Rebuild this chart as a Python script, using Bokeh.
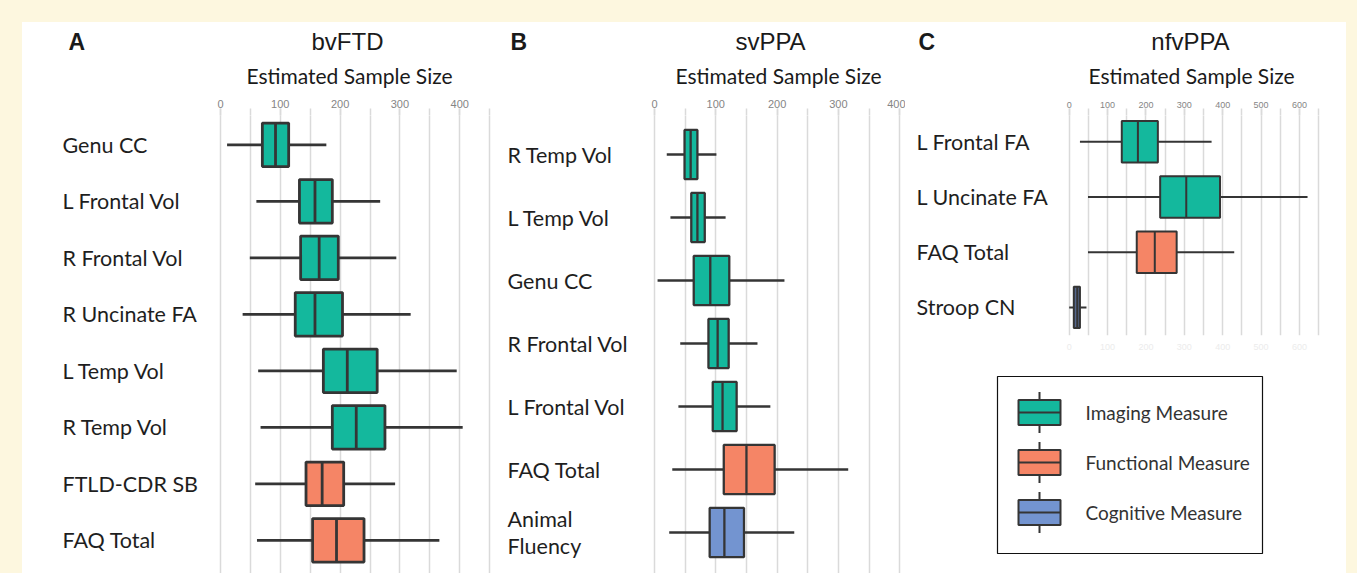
from bokeh.plotting import figure
from bokeh.models import (Range1d, FixedTicker, Spacer, LinearAxis,
                          ColumnDataSource)
from bokeh.transform import dodge
from bokeh.layouts import row, column
from bokeh.core.properties import value
from bokeh.embed import file_html
from bokeh.resources import INLINE

# ---------------- data ----------------
# Panel A: bvFTD
cats_A = ["Genu CC", "L Frontal Vol", "R Frontal Vol", "R Uncinate FA",
          "L Temp Vol", "R Temp Vol", "FTLD-CDR SB", "FAQ Total"]
labels_A = cats_A
types_A = ["Imaging", "Imaging", "Imaging", "Imaging", "Imaging", "Imaging",
           "Functional", "Functional"]
lo_A = [11, 60, 49, 37, 63, 67, 58, 61]
q1_A = [70, 132, 134, 125, 172, 187, 143, 154]
med_A = [92, 158, 165, 158, 212, 227, 170, 194]
q3_A = [114, 187, 197, 204, 262, 275, 206, 240]
hi_A = [177, 267, 294, 318, 395, 405, 292, 366]

# Panel B: svPPA
cats_B = ["R Temp Vol", "L Temp Vol", "Genu CC", "R Frontal Vol",
          "L Frontal Vol", "FAQ Total", "Animal Fluency"]
labels_B = ["R Temp Vol", "L Temp Vol", "Genu CC", "R Frontal Vol",
            "L Frontal Vol", "FAQ Total", "Animal\nFluency"]
types_B = ["Imaging", "Imaging", "Imaging", "Imaging", "Imaging",
           "Functional", "Cognitive"]
lo_B = [20, 26, 5, 42, 39, 29, 24]
q1_B = [49, 60, 64, 88, 95, 113, 90]
med_B = [59, 70, 91, 103, 111, 150, 114]
q3_B = [70, 82, 122, 121, 134, 196, 146]
hi_B = [101, 116, 212, 168, 189, 316, 228]

# Panel C: nfvPPA
cats_C = ["L Frontal FA", "L Uncinate FA", "FAQ Total", "Stroop CN"]
labels_C = cats_C
types_C = ["Imaging", "Imaging", "Functional", "Cognitive"]
lo_C = [28, 49, 49, 0]
q1_C = [137, 237, 176, 12]
med_C = [179, 305, 223, 21]
q3_C = [231, 393, 280, 28]
hi_C = [371, 621, 430, 45]

panel_letters = ["A", "B", "C"]
panel_titles = ["bvFTD", "svPPA", "nfvPPA"]
axis_title = "Estimated Sample Size"

legend_labels = ["Imaging Measure", "Functional Measure", "Cognitive Measure"]
legend_types = ["Imaging", "Functional", "Cognitive"]

ticks_AB = [0, 100, 200, 300, 400]
grid_A = [0, 50, 100, 150, 200, 250, 300, 350, 400, 450]
grid_B = [0, 50, 100, 150, 200, 250, 300, 350, 400]
ticks_C = [0, 100, 200, 300, 400, 500, 600]
grid_C = [0, 50, 100, 150, 200, 250, 300, 350, 400, 450, 500, 550, 600, 650]

# ---------------- style ----------------
CREAM = "#fdf7df"
OUT = "#353535"
GRID = "#dadada"
palette = {"Imaging": "#14b89d", "Functional": "#f58566", "Cognitive": "#7394d0"}
palette_C = {"Imaging": "#14b89d", "Functional": "#f58566", "Cognitive": "#55678c"}
LABEL_FONT = "Lato"
TITLE_FONT = "Liberation Sans"

W, H = 1357, 573
X0, Y0 = 22, 22          # white area starts here (page px)
HEAD_BOTTOM = 88         # header strip ends here
FRAME_TOP = 115          # top of every plot frame (page px)
PA_X = (22, 495)
PB_X = (495, 905)
PC_X = (905, 1346)
PC_BOTTOM = 355          # panel C figure bottom (legend below)
PC_FRAME_BOTTOM = 335


def panel(cats, labels, types, lo, q1, med, q3, hi, pal, xspan, zero_px,
          px_per_unit, fig_bottom, frame_bottom, row0_px, row_step_px,
          tick_out, ticks, grid, tick_font, box_h, lw, label_px):
    width = xspan[1] - xspan[0]
    height = fig_bottom - HEAD_BOTTOM
    pos = list(range(len(cats)))
    src = ColumnDataSource(dict(pos=pos, label=labels, lo=lo, q1=q1, med=med,
                                q3=q3, hi=hi, color=[pal[t] for t in types]))
    x_range = Range1d((xspan[0] - zero_px) / px_per_unit,
                      (xspan[1] - zero_px) / px_per_unit)
    y_range = Range1d((frame_bottom - row0_px) / row_step_px,
                      (FRAME_TOP - row0_px) / row_step_px)
    p = figure(width=width, height=height, x_range=x_range, y_range=y_range,
               x_axis_location="above", y_axis_location=None,
               toolbar_location=None, output_backend="svg",
               min_border_left=0, min_border_right=0,
               min_border_top=FRAME_TOP - HEAD_BOTTOM,
               min_border_bottom=fig_bottom - frame_bottom,
               outline_line_color=None, background_fill_color="white",
               border_fill_color="white")
    p.ygrid.visible = False
    p.xgrid.ticker = FixedTicker(ticks=grid)
    p.xgrid.grid_line_color = GRID
    p.xgrid.grid_line_width = 1.5
    ax = p.xaxis[0]
    ax.ticker = FixedTicker(ticks=ticks, minor_ticks=grid)
    ax.axis_line_color = None
    ax.major_tick_line_color = GRID
    ax.minor_tick_line_color = GRID
    ax.major_tick_line_width = 1.5
    ax.minor_tick_line_width = 1.5
    ax.major_tick_out = tick_out
    ax.major_tick_in = 0
    ax.minor_tick_out = tick_out
    ax.minor_tick_in = 0
    ax.major_label_text_font = "Liberation Sans"
    ax.major_label_text_font_size = tick_font
    ax.major_label_text_color = "#858585"
    ax.major_label_standoff = 1

    p.segment(x0="lo", x1="hi", y0="pos", y1="pos", source=src,
              line_color=OUT, line_width=lw)
    p.hbar(y="pos", left="q1", right="q3", height=box_h, source=src,
           fill_color="color", line_color=OUT, line_width=lw)
    p.segment(x0="med", x1="med", y0=dodge("pos", -box_h / 2),
              y1=dodge("pos", box_h / 2), source=src,
              line_color=OUT, line_width=lw)
    p.text(x=(label_px - zero_px) / px_per_unit, y="pos", text="label",
           source=src, text_font=value(LABEL_FONT), text_font_size="21.5px",
           text_color="#1e1e1e", text_baseline="middle", text_align="left",
           text_line_height=1.05)
    return p


# Header strip with panel letters and titles
head = figure(width=PC_X[1] - X0, height=HEAD_BOTTOM - Y0,
              x_range=Range1d(X0, PC_X[1]), y_range=Range1d(HEAD_BOTTOM, Y0),
              x_axis_location=None, y_axis_location=None,
              toolbar_location=None, output_backend="svg", min_border=0,
              outline_line_color=None, background_fill_color="white",
              border_fill_color="white")
head.xgrid.visible = False
head.ygrid.visible = False
head.text(x=[68, 510, 918], y=[41, 41, 41], text=panel_letters,
          text_font=value(TITLE_FONT), text_font_size="23px",
          text_font_style="bold", text_color="#1a1a1a",
          text_baseline="middle", text_align="left")
head.text(x=[347, 770, 1190], y=[41, 41, 41], text=panel_titles,
          text_font=value(TITLE_FONT), text_font_size="24px",
          text_color="#1a1a1a", text_baseline="middle", text_align="center")
head.text(x=[349, 778, 1191], y=[75, 75, 75], text=[axis_title] * 3,
          text_font=value(LABEL_FONT), text_font_size="21px",
          text_color="#1a1a1a", text_baseline="middle", text_align="center")

pA = panel(cats_A, labels_A, types_A, lo_A, q1_A, med_A, q3_A, hi_A, palette,
           PA_X, 220, 0.598, H, H, 144.3, 56.5, 7, ticks_AB, grid_A, "11px",
           0.77, 2.8, 62)
pB = panel(cats_B, labels_B, types_B, lo_B, q1_B, med_B, q3_B, hi_B, palette,
           PB_X, 654, 0.613, H, H, 154, 63, 7, ticks_AB, grid_B, "11px",
           0.78, 2.3, 507)
pC = panel(cats_C, labels_C, types_C, lo_C, q1_C, med_C, q3_C, hi_C, palette_C,
           PC_X, 1068.7, 0.3838, PC_BOTTOM, PC_FRAME_BOTTOM, 141.3, 55.2, 7,
           ticks_C, grid_C, "9px", 0.75, 2.0, 916)
faint = LinearAxis(ticker=FixedTicker(ticks=ticks_C), axis_line_color=None,
                   major_tick_line_color=None, minor_tick_line_color=None,
                   major_label_text_color="#ececec",
                   major_label_text_font_size="9px", major_label_standoff=2)
pC.add_layout(faint, "below")

# Legend (drawn in its own small figure, page-pixel coordinates)
LEG_BOX = (997, 1262, 376, 553)   # left, right, top, bottom
LEG_ROW0, LEG_STEP = 412, 50
SW_X, SW_W, SW_H, WH_H = 1039, 42, 25, 41
leg_y = [LEG_ROW0 + LEG_STEP * i for i in range(len(legend_labels))]
leg_src = ColumnDataSource(dict(
    y=leg_y, label=legend_labels, color=[palette[t] for t in legend_types],
    wt=[y - WH_H / 2 for y in leg_y], wb=[y + WH_H / 2 for y in leg_y],
    bt=[y - SW_H / 2 for y in leg_y], bb=[y + SW_H / 2 for y in leg_y]))
pL = figure(width=PC_X[1] - PC_X[0], height=H - PC_BOTTOM,
            x_range=Range1d(PC_X[0], PC_X[1]), y_range=Range1d(H, PC_BOTTOM),
            x_axis_location=None, y_axis_location=None,
            toolbar_location=None, output_backend="svg", min_border=0,
            outline_line_color=None, background_fill_color="white",
            border_fill_color="white")
pL.xgrid.visible = False
pL.ygrid.visible = False
pL.quad(left=[LEG_BOX[0]], right=[LEG_BOX[1]], top=[LEG_BOX[2]],
        bottom=[LEG_BOX[3]], fill_color=None, line_color="#111111",
        line_width=1.2)
pL.segment(x0=SW_X, x1=SW_X, y0="wt", y1="wb", source=leg_src,
           line_color=OUT, line_width=2)
pL.quad(left=SW_X - SW_W / 2, right=SW_X + SW_W / 2, top="bt", bottom="bb",
        source=leg_src, fill_color="color", line_color=OUT, line_width=2)
pL.segment(x0=SW_X - SW_W / 2, x1=SW_X + SW_W / 2, y0="y", y1="y",
           source=leg_src, line_color=OUT, line_width=2)
pL.text(x=1085, y="y", text="label", source=leg_src,
        text_font=value(LABEL_FONT), text_font_size="19px",
        text_color="#333333", text_baseline="middle", text_align="left")

cream = {"background-color": CREAM}
layout = column(
    Spacer(width=W, height=Y0, styles=cream),
    row(Spacer(width=X0, height=H - Y0, styles=cream),
        column(head, row(pA, pB, column(pC, pL))),
        Spacer(width=W - PC_X[1], height=H - Y0, styles=cream)),
)

open("out.html", "w").write(file_html(layout, INLINE))
